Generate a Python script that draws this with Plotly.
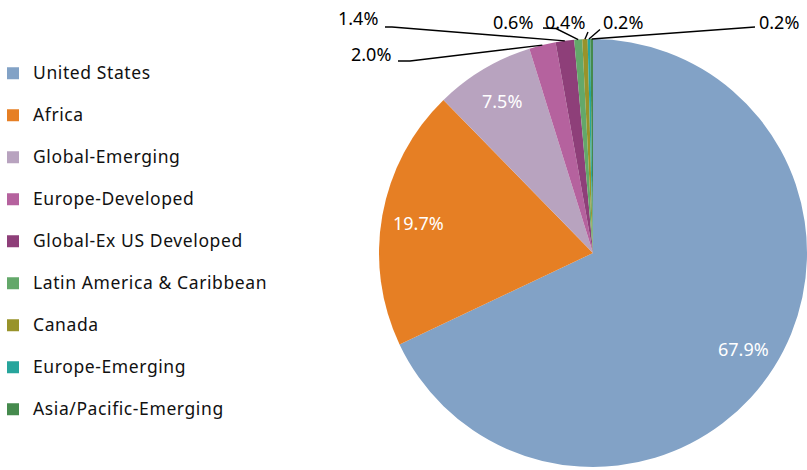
import math
import plotly.graph_objects as go

# ---- data ----
labels = ["United States", "Africa", "Global-Emerging", "Europe-Developed",
          "Global-Ex US Developed", "Latin America & Caribbean", "Canada",
          "Europe-Emerging", "Asia/Pacific-Emerging"]
values = [67.9, 19.7, 7.5, 2.0, 1.4, 0.6, 0.4, 0.2, 0.2]
colors = ["#82A2C6", "#E67F24", "#B8A3BF", "#B5629E", "#8E3F79",
          "#63A86A", "#98932A", "#27A59C", "#458A4D"]

# ---- layout geometry (pixels) ----
W, H = 807, 470
CX, CY, R = 593, 253, 214
FONT = "Noto Sans"
LABEL_R = 0.83  # fraction of radius where inside labels sit


def px(x):
    return x / W


def py(y):
    return 1 - y / H


legend_labels = [
    f"<span style='font-size:17.5px;letter-spacing:0.6px'>{l}</span><br> "
    for l in labels
]

fig = go.Figure(go.Pie(
    labels=legend_labels,
    values=values,
    sort=False,
    direction="clockwise",
    rotation=0,
    marker=dict(colors=colors, line=dict(width=0)),
    textinfo="none",
    hoverinfo="label+value",
    domain=dict(x=[px(CX - R), px(CX + R)], y=[py(CY + R), py(CY - R)]),
))

# callout label placement for the small slices (text position + leader elbow)
callouts = {
    3: dict(tx=393, ty=54.5, anchor="right", pts=[(398, 61), (410, 61)]),
    4: dict(tx=380, ty=18.5, anchor="right", pts=[(385, 27), (392, 27)]),
    5: dict(tx=535, ty=22.5, anchor="right", pts=[(543, 28), (556, 28.5)]),
    6: dict(tx=565, ty=22.5, anchor="center", pts=[(588, 32)]),
    7: dict(tx=601, ty=22.5, anchor="left", pts=[(600, 29.5)]),
    8: dict(tx=757, ty=22.5, anchor="left", pts=[(755, 27)]),
}

total = sum(values)
cum = 0.0
mids = []
for v in values:
    mids.append((cum + v / 2) / total)
    cum += v

annotations = []
shapes = []
for i, v in enumerate(values):
    ang = 2 * math.pi * mids[i]
    if i not in callouts:
        lx = CX + LABEL_R * R * math.sin(ang)
        ly = CY - LABEL_R * R * math.cos(ang)
        annotations.append(dict(
            x=px(lx), y=py(ly + 1), xref="paper", yref="paper",
            text=f"{v:.1f}%", showarrow=False, xanchor="center",
            yanchor="middle", font=dict(family=FONT, size=18, color="white"),
        ))
        continue
    c = callouts[i]
    ex = CX + R * math.sin(ang)
    ey = CY - R * math.cos(ang)
    annotations.append(dict(
        x=px(c["tx"]), y=py(c["ty"]), xref="paper", yref="paper",
        text=f"{v:.1f}%", showarrow=False, xanchor=c["anchor"],
        yanchor="middle", font=dict(family=FONT, size=18, color="black"),
    ))
    pts = c["pts"] + [(ex, ey)]
    path = "M " + " L ".join(f"{px(x):.5f},{py(y):.5f}" for x, y in pts)
    shapes.append(dict(type="path", path=path, xref="paper", yref="paper",
                       line=dict(color="black", width=1.4)))

fig.update_layout(
    width=W, height=H,
    margin=dict(l=0, r=0, t=0, b=0, autoexpand=False),
    paper_bgcolor="white",
    plot_bgcolor="white",
    showlegend=True,
    legend=dict(
        x=-7 / W, y=py(57), xanchor="left", yanchor="top",
        font=dict(family=FONT, size=15, color="#111111"),
        valign="top", traceorder="normal",
        bgcolor="rgba(0,0,0,0)",
    ),
    annotations=annotations,
    shapes=shapes,
)

fig.write_html("out.html", config={"displayModeBar": False},
               post_script="document.body.style.margin='0px';")
